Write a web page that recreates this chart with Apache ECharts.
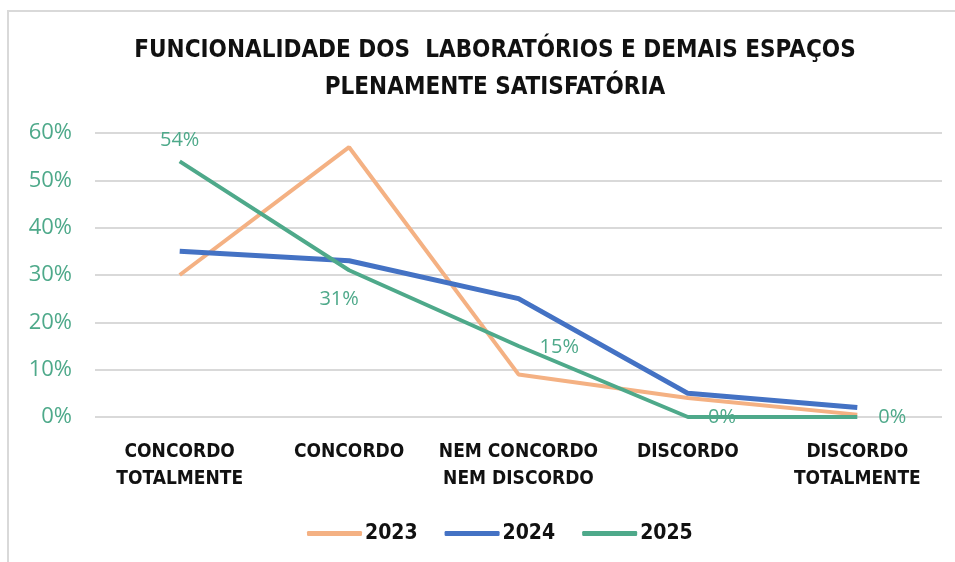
<!DOCTYPE html>
<html>
<head>
<meta charset="utf-8">
<script src="https://cdn.jsdelivr.net/npm/echarts@6/dist/echarts.min.js"></script>
<style>
  html, body { margin: 0; padding: 0; background: #fff; }
  #chart { width: 955px; height: 562px; }
</style>
</head>
<body>
<div id="chart"></div>
<script>
var chart = echarts.init(document.getElementById('chart'));

// categorias e valores (%)
var categorias = ['CONCORDO\nTOTALMENTE', 'CONCORDO', 'NEM CONCORDO\nNEM DISCORDO', 'DISCORDO', 'DISCORDO\nTOTALMENTE'];
var anos = ['2023', '2024', '2025'];
var valores2023 = [30, 57, 9, 4, 0.5];
var valores2024 = [35, 33, 25, 5, 2];
var valores2025 = [54, 31, 15, 0, 0];
var ticksY = [0, 10, 20, 30, 40, 50, 60];

var cores = ['#F4B183', '#4472C4', '#4EA98A'];
var verde = '#4EA98A';
var fonteCond = '"DejaVu Sans", sans-serif';
var pesoCond = 'bold condensed';   // face condensada da DejaVu

// posicoes dos rotulos da serie 2025
var posRotulos = ['top', 'bottom', 'right', 'right', 'right'];
var desloc = [[0, 7], [-10, 1], [3, 1], [2, 0], [3, 0]];

var dados2025 = valores2025.map(function (v, i) {
    return { value: v, label: { position: posRotulos[i], offset: desloc[i] } };
});

var option = {
    animation: false,
    backgroundColor: '#fff',
    graphic: [{
        type: 'polyline',
        shape: { points: [[8, 562], [8, 11], [955, 11]] },
        style: { stroke: '#d9d9d9', lineWidth: 2, fill: null }
    }],
    title: {
        text: 'FUNCIONALIDADE DOS  LABORATÓRIOS E DEMAIS ESPAÇOS\nPLENAMENTE SATISFATÓRIA',
        left: 490,
        textAlign: 'center',
        top: 27,
        textStyle: {
            fontFamily: fonteCond,
            fontWeight: pesoCond,
            fontSize: 24,
            lineHeight: 37,
            color: '#111'
        }
    },
    legend: {
        data: anos,
        left: 302,
        top: 518,
        itemWidth: 55,
        itemHeight: 5,
        itemGap: 27,
        icon: 'roundRect',
        textStyle: {
            fontFamily: fonteCond,
            fontWeight: pesoCond,
            fontSize: 21,
            color: '#111',
            padding: [0, 0, 0, -2]
        }
    },
    grid: {
        left: 95,
        right: 13,
        top: 133,
        bottom: 145
    },
    xAxis: {
        type: 'category',
        data: categorias,
        boundaryGap: true,
        axisLine: { show: false },
        axisTick: { show: false },
        axisLabel: {
            margin: 22,
            fontFamily: fonteCond,
            fontWeight: pesoCond,
            fontSize: 19,
            lineHeight: 27,
            color: '#111',
            interval: 0
        }
    },
    yAxis: {
        type: 'value',
        min: ticksY[0],
        max: ticksY[ticksY.length - 1],
        interval: 10,
        axisLine: { show: false },
        axisTick: { show: false },
        splitLine: { lineStyle: { color: '#d9d9d9', width: 2 } },
        axisLabel: {
            margin: 23,
            fontFamily: '"Open Sans", "DejaVu Sans", sans-serif',
            fontSize: 22,
            color: verde,
            formatter: '{value}%'
        }
    },
    series: [
        {
            name: anos[0],
            type: 'line',
            data: valores2023,
            showSymbol: false,
            symbol: 'none',
            lineStyle: { width: 4, color: cores[0] },
            itemStyle: { color: cores[0] },
            z: 2
        },
        {
            name: anos[1],
            type: 'line',
            data: valores2024,
            showSymbol: false,
            symbol: 'none',
            lineStyle: { width: 5, color: cores[1] },
            itemStyle: { color: cores[1] },
            z: 3
        },
        {
            name: anos[2],
            type: 'line',
            data: dados2025,
            symbol: 'circle',
            symbolSize: 0.1,
            showSymbol: true,
            lineStyle: { width: 4, color: cores[2] },
            itemStyle: { color: cores[2] },
            label: {
                show: true,
                formatter: '{c}%',
                fontFamily: '"Open Sans", "DejaVu Sans", sans-serif',
                fontSize: 20,
                color: verde,
                distance: 18
            },
            z: 4
        }
    ]
};

chart.setOption(option);
</script>
</body>
</html>
